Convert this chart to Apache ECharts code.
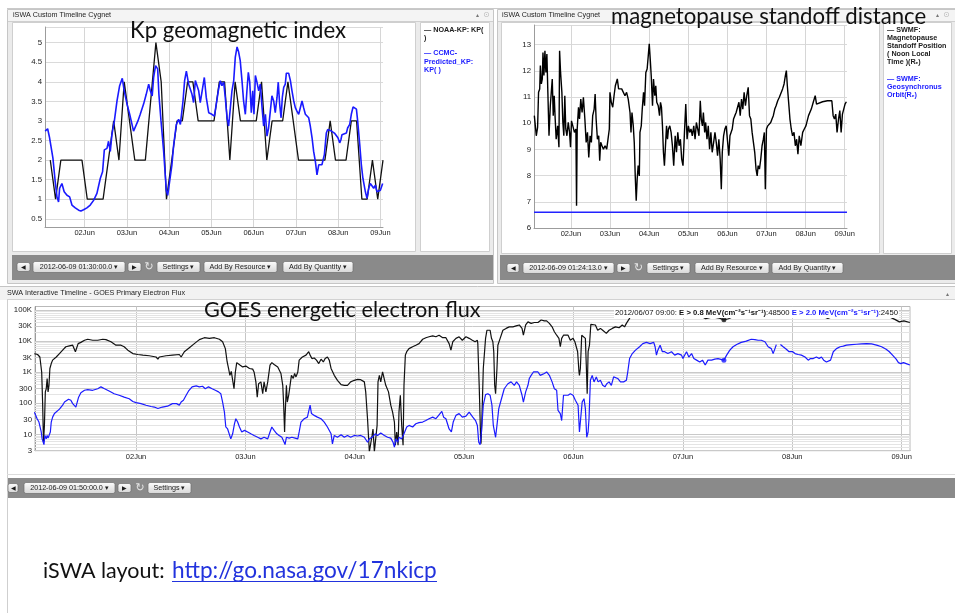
<!DOCTYPE html>
<html><head><meta charset="utf-8">
<script src="https://cdn.jsdelivr.net/npm/echarts@6/dist/echarts.min.js"></script>
<style>html,body{margin:0;padding:0;background:#fff}#c{width:955px;height:613px}</style>
</head><body><div id="c"></div>
<script>
// ---------- DATA (hours after 2012-06-01 00:00, value) ----------
const kpNoaaHours = [4.5,7.5,10.5,13.5,16.5,19.5,22.5,25.5,28.5,31.5,34.5,37.5,40.5,43.5,46.5,49.5,52.5,55.5,58.5,61.5,64.5,67.5,70.5,73.5,76.5,79.5,82.5,85.5,88.5,91.5,94.5,97.5,100.5,103.5,106.5,109.5,112.5,115.5,118.5,121.5,124.5,127.5,130.5,133.5,136.5,139.5,142.5,145.5,148.5,151.5,154.5,157.5,160.5,163.5,166.5,169.5,172.5,175.5,178.5,181.5,184.5,187.5,190.5,193.5];
const kpNoaaValues = [2,1,2,2,2,2,2,1,1,1,1,2,3,2,4,3,2,2,2,3.5,5,4,1,2,3,3,4,4,3,3,3,3,4,4,2,4,3,3,3,3,4,2,3,3,3,4,3,2,2,2,2,2,2,3,2,2,2,3,3,1,1,2,1,2];

const kpPredicted = [
[1.6,2.74],[3.0,2.8],[4.1,2.57],[6.0,2.05],[7.3,1.45],[8.3,1.06],[9.2,0.93],[9.8,1.28],[11.1,1.4],[12.4,1.19],
[14.0,1.1],[15.5,1.06],[16.8,0.85],[18.7,0.78],[20.6,0.72],[21.9,0.70],[23.4,0.73],[25.3,0.78],[27.2,0.85],[29.1,0.97],
[31.0,1.15],[32.9,1.53],[34.2,1.7],[35.2,2.26],[36.7,2.3],[37.6,2.48],[38.6,2.22],[39.5,2.65],[40.9,3.0],[42.4,3.51],
[43.9,3.9],[45.4,4.09],[46.5,3.77],[48.1,3.43],[49.6,3.17],[51.8,2.74],[52.8,2.72],[54.3,3.0],[55.6,3.17],[57.5,3.43],
[59.0,3.68],[60.4,3.94],[61.3,3.77],[62.4,3.64],[63.2,4.11],[64.3,4.41],[65.5,4.33],[66.2,3.68],[67.4,3.0],[68.9,2.22],
[70.4,1.23],[71.2,1.1],[72.3,1.15],[73.6,1.88],[74.6,2.39],[76.1,2.91],[77.4,3.04],[78.4,2.91],[79.9,3.51],[80.8,4.03],
[81.8,4.27],[83.1,3.94],[84.0,3.99],[85.0,3.68],[85.9,3.47],[86.9,4.03],[87.8,4.07],[88.8,3.77],[89.7,3.47],[90.7,3.51],
[92.0,4.11],[93.1,3.6],[94.5,3.21],[95.4,3.25],[96.3,3.17],[97.7,3.12],[98.8,3.43],[100.1,3.81],[101.1,4.03],[102.0,3.9],
[103.0,3.99],[103.9,3.6],[104.9,3.08],[105.8,2.87],[106.8,3.34],[107.7,3.77],[108.7,4.03],[109.6,4.63],[110.6,4.89],[111.5,4.76],
[112.4,4.54],[113.4,4.03],[114.3,3.51],[115.3,3.17],[116.2,3.77],[117.0,4.24],[117.8,3.99],[118.7,3.21],[119.5,3.77],[120.2,3.17],
[121.0,4.16],[121.9,3.99],[122.9,3.77],[123.8,3.94],[124.8,3.34],[125.7,2.87],[126.7,3.17],[127.6,2.61],[128.5,2.82],[129.5,3.25],
[130.4,3.64],[131.4,3.51],[132.3,3.21],[133.3,3.6],[134.0,3.99],[134.8,3.43],[135.6,3.08],[136.3,3.6],[137.1,3.86],[138.0,3.94],
[138.6,4.22],[139.9,4.22],[140.9,4.03],[141.8,3.77],[142.8,3.51],[143.7,3.34],[144.6,3.25],[145.6,3.17],[146.5,3.21],[147.5,3.51],
[148.4,3.34],[149.4,3.17],[150.3,3.12],[151.3,3.08],[152.2,2.87],[153.2,2.57],[154.1,2.22],[155.1,1.96],[156.0,1.62],[157.0,1.88],
[157.9,1.92],[158.8,1.88],[160.2,2.14],[161.3,2.69],[162.1,2.78],[163.2,2.82],[164.2,2.74],[165.1,2.78],[165.9,2.69],[167.0,2.65],
[167.9,2.57],[168.9,2.44],[169.6,2.52],[170.2,2.65],[171.2,2.69],[172.7,2.69],[173.4,2.82],[174.6,2.91],[175.5,3.17],[176.5,3.36],
[177.4,3.41],[178.4,3.3],[179.1,3.0],[180.3,2.39],[181.2,1.88],[182.1,1.53],[183.5,1.19],[184.4,1.02],[185.4,1.28],[186.3,1.4],
[187.3,1.4],[188.2,1.28],[189.2,1.36],[190.1,1.19],[191.0,1.19],[192.0,1.23],[192.9,1.28],[193.3,1.4]];

const mpStandoff = [
[1.6,10.29],[2.0,10.22],[2.8,9.52],[3.6,9.84],[4.2,11.18],[4.9,11.31],[5.3,12.2],[5.9,11.5],[6.5,11.69],[6.9,12.7],[7.5,11.82],[8.1,12.77],[8.7,11.94],[9.3,12.64],[9.9,11.18],[10.6,9.52],[11.4,10.67],[12.0,11.18],[12.6,11.69],[13.2,10.29],[13.8,11.05],[14.4,10.16],[15.0,9.39],[15.9,9.9],[16.7,9.08],[17.1,12.77],[17.7,11.94],[18.5,11.18],[19.1,10.03],[19.7,9.52],[20.3,11.05],[20.9,9.78],[21.6,9.52],[22.4,10.03],[23.2,9.65],[23.8,9.08],[24.4,10.09],[25.2,9.9],[26.2,9.65],[27.1,9.78],[27.5,6.85],[27.9,9.78],[28.7,10.61],[29.3,10.16],[30.1,10.92],[30.9,10.41],[31.7,10.99],[32.6,10.16],[33.4,9.27],[34.2,9.65],[35.0,8.69],[35.8,9.52],[36.6,9.27],[37.4,10.29],[38.3,10.54],[38.9,11.11],[39.5,10.16],[40.3,9.39],[41.1,9.52],[41.7,8.57],[42.3,9.27],[43.1,9.14],[44.0,9.01],[45.0,9.14],[46.0,9.01],[46.8,9.39],[47.6,9.78],[48.0,11.18],[48.8,10.8],[49.7,10.61],[50.5,11.05],[51.3,11.43],[52.5,11.69],[53.3,11.31],[54.1,11.37],[55.2,11.31],[56.2,11.24],[57.2,11.05],[58.2,11.18],[59.2,10.92],[60.3,10.41],[60.9,9.65],[61.5,10.41],[62.3,9.9],[62.9,9.27],[63.5,7.99],[64.1,7.04],[64.7,7.87],[65.3,8.38],[66.0,7.99],[66.4,9.65],[67.2,9.9],[67.8,10.54],[68.6,11.18],[69.2,10.67],[70.0,11.94],[70.8,12.07],[71.5,12.58],[72.1,13.03],[72.7,12.45],[73.3,11.82],[74.1,10.67],[74.7,11.69],[75.5,11.05],[76.1,11.43],[76.7,10.8],[77.6,10.67],[78.4,10.29],[79.0,10.8],[79.6,10.61],[80.2,9.9],[80.8,8.89],[81.4,8.38],[82.0,8.31],[82.7,9.9],[83.3,9.39],[83.9,9.78],[84.7,9.9],[85.5,9.65],[86.3,9.14],[87.1,8.38],[88.0,9.52],[88.8,8.89],[89.6,9.65],[90.4,9.14],[91.2,9.39],[92.0,8.63],[92.8,8.38],[93.7,9.65],[94.5,10.73],[95.3,9.39],[96.1,9.9],[96.9,9.65],[97.7,9.78],[98.5,9.52],[99.4,9.9],[100.2,9.39],[101.0,10.03],[101.8,9.78],[102.6,9.52],[103.4,10.86],[104.0,10.16],[104.7,9.9],[105.3,10.41],[106.1,9.65],[106.7,10.03],[107.5,9.39],[108.3,9.9],[109.1,9.01],[109.9,9.65],[110.7,8.89],[111.6,9.27],[112.4,9.65],[113.2,9.27],[114.0,8.76],[114.8,9.39],[115.6,8.63],[116.3,7.48],[116.9,8.89],[117.7,9.52],[118.5,9.78],[119.3,9.9],[120.1,9.97],[120.9,8.76],[121.6,9.52],[122.4,9.52],[123.0,9.78],[123.8,10.16],[124.6,10.29],[125.4,10.41],[126.2,10.48],[127.1,10.8],[127.9,10.29],[128.7,10.92],[129.5,10.54],[130.3,11.18],[131.1,10.67],[131.9,11.05],[132.8,11.37],[133.6,10.29],[134.4,10.16],[135.2,9.65],[136.0,9.27],[136.8,8.89],[137.6,8.25],[138.3,7.99],[138.9,8.38],[139.7,8.25],[140.5,8.63],[141.3,9.14],[142.1,9.39],[142.7,9.65],[143.3,7.48],[144.0,9.78],[144.8,9.9],[145.8,9.9],[146.6,10.03],[147.4,10.16],[148.2,10.29],[149.1,10.54],[149.9,10.67],[150.9,10.86],[151.9,10.99],[152.9,11.05],[153.9,11.31],[154.8,11.5],[155.6,11.82],[156.2,12.01],[156.8,11.43],[157.6,10.8],[158.4,10.16],[159.2,9.78],[160.0,9.52],[160.9,9.65],[161.7,9.14],[162.5,9.39],[163.3,8.82],[164.1,9.52],[165.1,9.14],[166.2,9.65],[167.2,9.78],[168.2,9.9],[169.8,10.29],[171.5,10.54],[172.7,10.8],[173.9,11.05],[174.7,10.73],[175.5,10.8],[178.4,10.82],[181.4,10.86],[184.1,10.86],[184.9,10.29],[185.7,10.16],[186.5,10.35],[187.3,9.65],[188.2,10.16],[189.0,10.48],[189.8,9.65],[190.6,10.35],[191.4,10.54],[192.2,10.73],[193.0,10.82]];

const geoOrbitHours = [1.4, 193.4];
const geoOrbitValues = [6.6, 6.6];

const goesE08 = [
[1.7,3980],[2.4,3720],[2.9,3090],[3.3,1020],[3.5,110],[3.7,5.6],[3.9,19.5],[4.1,234],[4.3,295],[4.5,631],[4.7,234],[4.9,380],[5.1,1320],[5.4,1900],[5.7,2450],[6.5,3090],[7.2,3980],[7.9,5130],[8.6,6610],[9.4,7080],[10.1,7410],[10.7,4570],[11.0,3980],[11.3,8320],[11.9,9120],[12.7,10700],[13.4,11500],[14.5,10700],[15.6,10700],[16.7,11500],[17.4,11200],[18.5,9550],[19.6,7410],[20.7,7410],[21.4,6610],[22.2,5130],[23.3,3980],[24.4,3720],[25.5,3550],[26.9,3390],[28.4,3090],[28.8,2630],[29.1,3090],[30.6,3390],[32.0,3550],[33.5,3720],[33.9,3090],[34.6,4570],[35.7,6170],[36.8,8320],[37.9,11200],[39.0,12900],[40.1,12300],[41.2,12900],[42.3,11500],[43.0,9550],[43.6,5750],[44.0,2140],[44.3,1320],[44.6,794],[44.9,1070],[45.2,977],[45.5,295],[45.8,1020],[46.1,2040],[46.4,2240],[46.8,1700],[47.4,1480],[48.1,1580],[48.9,1320],[49.6,1260],[49.9,1020],[50.3,490],[50.6,158],[50.9,427],[51.4,490],[51.8,204],[52.1,490],[52.5,234],[52.9,490],[53.4,1700],[53.8,2040],[54.3,1780],[55.1,1480],[55.8,912],[56.2,380],[56.4,87],[56.6,12],[56.7,36],[57.0,380],[57.2,110],[57.5,182],[57.8,380],[58.1,794],[58.5,631],[58.8,912],[59.1,708],[59.5,1020],[59.8,2450],[60.2,2750],[60.5,3090],[61.3,3550],[61.9,4570],[62.2,3550],[62.6,2750],[63.1,2880],[63.6,2450],[64.1,1900],[64.6,2630],[65.1,2140],[65.5,2750],[66.0,3090],[66.4,2450],[66.8,1320],[67.5,794],[68.2,550],[69.0,398],[69.7,380],[70.4,380],[71.1,490],[71.9,550],[72.6,589],[73.3,575],[74.1,490],[74.4,234],[74.8,32],[75.2,2.8],[75.5,2.8],[75.8,9.3],[76.0,15],[76.3,2.8],[76.6,2.8],[76.9,19.5],[77.1,490],[77.4,794],[77.7,490],[78.1,1020],[78.5,912],[78.8,380],[79.4,234],[79.9,87],[80.3,52],[80.7,25],[80.9,4.5],[81.2,12],[81.5,4.5],[81.7,52],[82.0,182],[82.3,19.5],[82.6,4.5],[82.8,380],[83.1,3550],[83.4,4570],[83.9,5750],[84.7,6610],[85.4,7410],[86.1,8320],[86.9,11500],[87.6,12900],[88.3,13800],[89.1,14800],[89.8,13800],[90.5,15500],[91.3,12900],[92.0,12900],[92.7,8320],[93.1,5130],[93.5,9550],[94.2,12300],[94.9,13800],[95.6,10700],[96.4,13800],[97.1,12300],[97.8,10700],[98.4,9550],[98.9,10700],[99.0,8320],[99.3,380],[99.6,9.3],[99.7,5],[99.9,32],[100.2,1320],[100.7,12300],[101.0,22400],[101.4,25700],[101.7,22400],[102.0,12300],[102.3,9550],[102.5,4570],[102.7,380],[102.9,204],[103.2,1320],[103.4,7410],[103.9,12300],[104.5,22400],[105.2,25700],[105.9,28800],[106.7,28800],[107.4,30900],[108.1,33100],[108.7,25700],[109.0,15500],[109.5,33100],[110.0,41700],[110.7,37200],[111.4,39800],[112.2,39800],[112.9,47900],[113.6,44700],[114.1,44700],[114.7,37200],[115.3,28800],[115.8,20000],[116.3,15500],[116.8,12300],[117.1,6610],[117.4,12300],[117.8,15500],[118.2,13800],[118.8,15500],[119.3,10700],[119.9,12300],[120.3,9550],[120.6,8320],[120.9,4570],[121.2,1020],[121.3,794],[121.5,1320],[121.8,15500],[122.2,15500],[122.6,12300],[122.8,1700],[123.0,204],[123.2,4570],[123.5,7410],[123.8,34700],[124.2,37200],[124.8,33100],[125.3,22400],[125.9,25700],[126.4,22400],[127.2,17800],[127.8,22400],[128.5,25700],[129.2,28800],[130.0,26900],[130.7,33100],[131.2,28800],[131.6,37200],[131.9,33100],[132.3,53700],[132.6,77600],[133.5,83200],[136,89100],[140,79400],[144,75900],[148,63100],[149,52500],[150.5,60300],[152,55000],[153,48500],[154,52500],[156,70800],[160,89100],[165,95500],[170,85100],[174,70800],[175.8,53700],[177,63100],[181,79400],[185,83200],[189,63100],[190.5,50100],[191.5,41700],[192.5,44700],[193.8,39800]];

const goesE20 = [
[1.7,52],[2.1,47],[2.3,32],[2.5,34],[2.7,25],[2.9,22],[3.2,12],[3.4,7.2],[3.6,8.1],[3.8,4.7],[4.0,9.3],[4.3,7.2],[4.5,9.3],[4.7,7.6],[5.0,8.1],[5.2,12],[5.4,25],[5.7,36],[6.1,47],[6.5,52],[7.2,65],[7.6,71],[7.9,87],[8.3,110],[8.6,126],[9.2,135],[9.7,126],[10.1,98],[10.5,110],[10.8,76],[11.1,110],[11.4,158],[11.9,219],[12.7,263],[13.4,275],[14.5,263],[15.6,295],[16.3,339],[17.1,295],[18.2,245],[19.2,204],[20.3,182],[21.4,158],[22.5,141],[23.3,115],[24.0,105],[25.1,98],[26.2,87],[27.3,79],[28.0,76],[28.8,68],[29.8,76],[30.9,81],[32.0,98],[32.9,98],[33.5,87],[33.9,110],[34.4,126],[35.0,182],[35.5,245],[36.3,339],[37.2,363],[37.9,339],[38.6,355],[39.2,295],[39.9,339],[40.7,295],[41.4,263],[42.1,234],[42.6,204],[43.0,110],[43.4,52],[43.7,17.4],[44.1,15],[44.5,13.5],[44.8,7.2],[45.2,10.5],[45.6,22],[45.9,32],[46.3,25],[46.7,17.4],[47.2,12],[47.8,13.5],[48.5,12],[49.2,10.5],[49.9,9.3],[50.7,8.1],[51.4,7.2],[52.1,8.1],[52.9,7.2],[53.4,12],[53.8,17.4],[54.3,13.5],[54.9,10.5],[55.4,9.3],[56.0,8.1],[56.5,5.6],[56.7,4.7],[57.0,8.1],[57.6,7.6],[58.2,8.1],[58.9,7.6],[59.5,7.2],[59.8,12],[60.2,25],[60.9,32],[61.6,36],[62.2,87],[62.5,47],[63.1,41],[63.8,36],[64.6,32],[65.3,25],[66.0,17.4],[66.8,10.5],[67.1,5],[67.5,9.3],[68.2,8.1],[69.0,9.8],[69.7,8.1],[70.4,9.3],[71.1,8.1],[71.9,9.3],[72.6,8.9],[73.3,9.3],[74.1,8.1],[74.8,5.6],[75.2,7.2],[75.8,8.1],[76.5,10.5],[77.0,9.3],[77.7,11.2],[78.5,9.3],[79.2,8.1],[79.9,7.6],[80.4,5.6],[80.7,3.9],[81.0,7.2],[81.4,5.6],[81.7,8.1],[82.3,7.2],[82.8,10.5],[83.4,17.4],[83.9,19.5],[84.7,17.4],[85.4,22],[86.1,24],[86.9,25],[87.6,28],[88.3,32],[89.1,36],[89.8,32],[90.4,41],[91.1,55],[91.5,36],[92.0,32],[92.7,15],[93.2,12],[93.6,25],[94.2,41],[94.9,47],[95.6,36],[96.4,39],[97.1,52],[97.9,36],[98.5,28],[98.9,19.5],[99.2,5.6],[99.5,4.7],[99.8,12],[100.2,87],[100.7,190],[101.2,204],[101.7,182],[102.1,87],[102.4,19.5],[102.9,8.1],[103.2,19.5],[103.6,68],[104.1,126],[104.8,295],[105.6,427],[106.3,490],[107.0,380],[107.5,490],[108.1,380],[108.7,182],[109.0,110],[109.5,234],[110.0,380],[110.3,631],[110.7,794],[111.2,1020],[111.6,912],[112.2,1020],[112.7,794],[113.1,912],[113.6,912],[114.1,1020],[114.7,794],[115.3,490],[115.8,295],[116.3,263],[116.6,59],[117.1,47],[117.4,28],[117.8,182],[118.2,204],[118.8,182],[119.3,204],[119.9,182],[120.4,126],[121.0,87],[121.3,12],[121.6,10.5],[121.9,110],[122.3,141],[122.6,68],[122.9,8.1],[123.2,12],[123.4,32],[123.7,550],[124.1,794],[124.5,490],[125.0,708],[125.4,490],[125.9,550],[126.4,380],[126.9,339],[127.3,427],[127.8,490],[128.3,380],[128.8,708],[129.2,794],[129.7,631],[130.3,490],[131.0,490],[131.6,550],[131.9,1020],[132.3,2750],[132.9,3980],[133.6,5130],[134.5,6610],[135.2,8320],[136.0,9120],[136.8,8320],[137.6,9120],[137.9,6610],[138.2,3550],[138.5,5130],[139.0,7410],[139.5,4570],[140.0,4570],[140.7,3980],[141.5,4570],[142.2,3550],[142.9,3980],[143.7,3550],[144.0,2750],[144.8,4570],[145.3,3090],[145.9,3980],[146.4,2750],[147.0,2450],[147.7,2140],[148.3,2450],[148.9,1700],[149.5,2450],[150.3,2450],[151.0,2630],[151.7,2750],[153.0,2450],[153.6,3550],[154.3,5130],[155.0,6610],[155.8,7760],[156.8,9120],[157.9,10000],[159.0,11500],[159.8,11200],[160.5,10700],[161.2,10700],[162.0,9550],[162.7,6610],[163.4,5750],[163.8,3980],[164.2,5750],[164.5,7760],[165.0,null],[165.4,7760],[166.0,6610],[166.7,5500],[167.3,4570],[167.6,3980],[168.1,4570],[168.6,3980],[169.3,3720],[170.0,3550],[170.8,3090],[171.5,2450],[172.0,2750],[172.6,2750],[173.3,3090],[173.9,2750],[174.4,3090],[174.9,2450],[175.5,2140],[175.9,1900],[176.4,2450],[177.0,4570],[177.7,5750],[178.5,6610],[179.2,6920],[179.9,7410],[181.0,7760],[182.1,7940],[183.2,8130],[184.3,8320],[185.4,8130],[186.5,7410],[187.6,6610],[188.6,5500],[189.3,4570],[190.0,3550],[190.8,2630],[191.3,2040],[191.8,1900],[192.4,2040],[193.0,1900],[193.5,1780],[193.8,1700]];

const hoverHour = 153;                 // 2012/06/07 09:00
const hoverValues = [48500, 2450];     // E>0.8 MeV, E>2.0 MeV
const dayTickHours = [24, 48, 72, 96, 120, 144, 168, 192];   // 02Jun ... 09Jun midnights
const fluxMajorTicks = [3, 10, 30, 100, 300, 1000, 3000, 10000, 30000, 100000];
const fluxMajorLabels = ['3', '10', '30', '100', '300', '1K', '3K', '10K', '30K', '100K'];
const fluxMinorMultipliers = [2, 4, 5, 6, 7, 8, 9];
const fluxDecades = [1, 10, 100, 1000, 10000, 100000];

// ---------- helpers ----------
const T0 = new Date(2012, 5, 1).getTime();
const HOUR = 3600000;
const toTime = h => T0 + h * HOUR;
const pairs = arr => arr.map(p => [toTime(p[0]), p[1]]);
const zip = (hs, vs) => hs.map((h, i) => [toTime(h), vs[i]]);
const FONT = '"Liberation Sans", Arial, sans-serif';

function dayLabel(v) {
  const d = new Date(v);
  const dd = d.getDate();
  return (dd < 10 ? '0' : '') + dd + 'Jun';
}
function timeAxis(gi, h0, h1) {
  return {
    type: 'time', gridIndex: gi, min: toTime(h0), max: toTime(h1),
    axisLine: { show: true, lineStyle: { color: '#9c9c9c', width: 1 } },
    axisTick: { show: false }, axisLabel: { show: false }, splitLine: { show: false }
  };
}
function dayLineSeries(gi, yi, color) {
  return {
    name: 'days' + gi, type: 'line', xAxisIndex: gi, yAxisIndex: yi, data: [], z: 1, silent: true,
    markLine: { silent: true, z: 1, symbol: ['none', 'none'], animation: false,
      lineStyle: { color: color, type: 'solid', width: 1 },
      label: { show: true, position: 'start', formatter: '{b}', fontSize: 7.5, color: '#222', fontFamily: FONT, distance: 2 },
      data: dayTickHours.map(h => ({ xAxis: toTime(h), name: dayLabel(toTime(h)) })) }
  };
}

// ---------- graphics (chrome) ----------
const G = [];
function rect(x, y, w, h, fill, stroke, z, r) {
  G.push({ type: 'rect', silent: true, z: z == null ? -10 : z,
    shape: { x, y, width: w, height: h, r: r || 0 },
    style: { fill: fill || 'none', stroke: stroke || null, lineWidth: 1 } });
}
function hline(x1, x2, y, color, z) {
  G.push({ type: 'line', silent: true, z: z == null ? -9 : z, shape: { x1, y1: y, x2, y2: y }, style: { stroke: color, lineWidth: 1 } });
}
function vline(x, y1, y2, color, z) {
  G.push({ type: 'line', silent: true, z: z == null ? -9 : z, shape: { x1: x, y1, x2: x, y2 }, style: { stroke: color, lineWidth: 1 } });
}
function txt(x, y, text, o) {
  o = o || {};
  G.push({ type: 'text', silent: true, z: o.z == null ? 6 : o.z, x, y,
    style: Object.assign({ text, fill: '#222', fontSize: 7.2, fontFamily: FONT,
      align: 'left', verticalAlign: 'middle', textAlign: 'left', textVerticalAlign: 'middle' }, o.style || {}) });
}
function button(x, y, w, h, label, fs) {
  G.push({ type: 'rect', silent: true, z: 5, shape: { x, y, width: w, height: h, r: 2 },
    style: { fill: new echarts.graphic.LinearGradient(0, 0, 0, 1, [{ offset: 0, color: '#fdfdfd' }, { offset: 1, color: '#d6d6d6' }]), stroke: '#6f6f6f', lineWidth: 0.7 } });
  txt(x + w / 2, y + h / 2 + 0.5, label, { style: { align: 'center', textAlign: 'center', fontSize: fs || 7.2, fill: '#1a1a1a' } });
}
function toolbar(x, y, w, h, by, items) {
  rect(x, y, w, h, '#8a8a8a', null, -8);
  items.forEach(it => {
    if (it.icon) txt(it.x, by + 5.5, '↻', { style: { fontSize: 11, fill: '#e4e4e4', align: 'center', textAlign: 'center', fontFamily: '"DejaVu Sans"' } });
    else if (it.arrow) button(it.x, by + 1, it.w, 9, it.arrow, 6);
    else button(it.x, by, it.w, 11, it.label);
  });
}

hline(7, 955, 8.5, '#c9c9c9');
// --- top-left panel ---
rect(7.5, 9.5, 486, 274, '#ebebeb', '#c6c6c6', -12);
rect(8, 10, 485, 11, '#f4f4f4', null, -11);
hline(8, 493, 21.5, '#cfcfcf');
txt(13, 15.5, 'iSWA Custom Timeline Cygnet');
txt(476, 15, '▴', { style: { fontSize: 6, fill: '#777', fontFamily: '"DejaVu Sans"' } });
txt(483, 15, '⊙', { style: { fontSize: 8, fill: '#bbb', fontFamily: '"DejaVu Sans"' } });
rect(12.5, 22.5, 403, 229, '#ffffff', '#cfcfcf', -10);
rect(420.5, 22.5, 69, 229, '#ffffff', '#cfcfcf', -10);
toolbar(12, 255, 481, 25, 261.5, [
  { arrow: '◀', x: 17, w: 13 }, { label: '2012-06-09 01:30:00.0 ▾', x: 33, w: 92 }, { arrow: '▶', x: 128, w: 13 },
  { icon: 1, x: 149 }, { label: 'Settings ▾', x: 157, w: 43 }, { label: 'Add By Resource ▾', x: 204, w: 73 }, { label: 'Add By Quantity ▾', x: 283, w: 70 }]);
const LB = { fontWeight: 'bold', fontSize: 7.2 };
const LBB = Object.assign({ fill: '#1a1aff' }, LB);
txt(424, 30, '— NOAA-KP: KP(', { style: LB });
txt(424, 38, ')', { style: LB });
txt(424, 53.5, '— CCMC-', { style: LBB });
txt(424, 62, 'Predicted_KP:', { style: LBB });
txt(424, 70.5, 'KP( )', { style: LBB });

// --- top-right panel ---
rect(497.5, 9.5, 458, 274, '#ebebeb', '#c6c6c6', -12);
rect(498, 10, 457, 11, '#f4f4f4', null, -11);
hline(498, 955, 21.5, '#cfcfcf');
txt(502, 15.5, 'iSWA Custom Timeline Cygnet');
txt(936, 15, '▴', { style: { fontSize: 6, fill: '#777', fontFamily: '"DejaVu Sans"' } });
txt(943, 15, '⊙', { style: { fontSize: 8, fill: '#bbb', fontFamily: '"DejaVu Sans"' } });
rect(501.5, 22.5, 378, 231, '#ffffff', '#cfcfcf', -10);
rect(883.5, 22.5, 68, 231, '#ffffff', '#cfcfcf', -10);
toolbar(500, 255, 455, 25, 262.5, [
  { arrow: '◀', x: 507, w: 12 }, { label: '2012-06-09 01:24:13.0 ▾', x: 523, w: 91 }, { arrow: '▶', x: 617, w: 13 },
  { icon: 1, x: 638.5 }, { label: 'Settings ▾', x: 647, w: 43 }, { label: 'Add By Resource ▾', x: 695, w: 74 }, { label: 'Add By Quantity ▾', x: 772, w: 71 }]);
txt(887, 30, '— SWMF:', { style: LB });
txt(887, 38, 'Magnetopause', { style: LB });
txt(887, 46, 'Standoff Position', { style: LB });
txt(887, 54, '( Noon Local', { style: LB });
txt(887, 62, 'Time )(Rₑ)', { style: LB });
txt(887, 79, '— SWMF:', { style: LBB });
txt(887, 87.5, 'Geosynchronus', { style: LBB });
txt(887, 95.5, 'Orbit(Rₑ)', { style: LBB });

// --- bottom panel ---
rect(0, 286, 955, 14, '#f2f2f2', null, -11);
hline(0, 955, 286.5, '#c4c4c4');
hline(7, 955, 299.5, '#d2d2d2');
txt(7, 293.5, 'SWA Interactive Timeline - GOES Primary Electron Flux');
txt(946, 294, '▴', { style: { fontSize: 6, fill: '#777', fontFamily: '"DejaVu Sans"' } });
rect(7, 300, 948, 174, '#ffffff', null, -11);
vline(7.5, 300, 613, '#cfcfcf');
hline(7, 955, 474.5, '#dcdcdc');
toolbar(8, 478, 947, 20, 482.5, [
  { arrow: '◀', x: 8, w: 10 }, { label: '2012-06-09 01:50:00.0 ▾', x: 24, w: 91 }, { arrow: '▶', x: 118, w: 13 },
  { icon: 1, x: 140 }, { label: 'Settings ▾', x: 148, w: 43 }]);

// hover readout
const fmtHover = (() => {
  const d = new Date(toTime(hoverHour));
  const p = n => (n < 10 ? '0' : '') + n;
  return d.getFullYear() + '/' + p(d.getMonth() + 1) + '/' + p(d.getDate()) + ' ' + p(d.getHours()) + ':' + p(d.getMinutes()) + ': ';
})();
G.push({ type: 'text', silent: true, z: 50, x: 614, y: 312.5,
  style: { text: fmtHover + '{b|E > 0.8 MeV(cm⁻²s⁻¹sr⁻¹)}:' + hoverValues[0] + ' {c|E > 2.0 MeV(cm⁻²s⁻¹sr⁻¹)}:' + hoverValues[1],
    rich: { b: { fontWeight: 'bold', fill: '#111', fontSize: 7.7, fontFamily: FONT }, c: { fontWeight: 'bold', fill: '#1a1aff', fontSize: 7.7, fontFamily: FONT } },
    fill: '#111', fontSize: 7.7, fontFamily: FONT, backgroundColor: '#fff', padding: [2, 1, 1, 1],
    align: 'left', verticalAlign: 'middle', textAlign: 'left', textVerticalAlign: 'middle' } });

// slide overlay titles
const TF = 'Lato, "Open Sans", sans-serif';
txt(130, 31, 'Kp geomagnetic index', { z: 60, style: { fontSize: 22.2, fontFamily: TF, fill: '#111' } });
txt(611, 16.8, 'magnetopause standoff distance', { z: 60, style: { fontSize: 22.2, fontFamily: TF, fill: '#111' } });
txt(204, 310.5, 'GOES energetic electron flux', { z: 60, style: { fontSize: 21.7, fontFamily: TF, fill: '#111' } });
txt(43, 571, 'iSWA layout:', { z: 60, style: { fontSize: 21.5, fontFamily: TF, fill: '#111' } });
txt(172, 571, 'http://go.nasa.gov/17nkicp', { z: 60, style: { fontSize: 22.6, fontFamily: TF, fill: '#2233dd' } });
hline(172, 437, 581.5, '#2233dd', 60);

// ---------- mark lines for the log axis ----------
const majorLines = fluxMajorTicks.map((v, i) => ({ yAxis: v, name: fluxMajorLabels[i], lineStyle: { color: '#c9c9c9', type: 'solid' } }));
const minorLines = [];
fluxDecades.forEach(d => fluxMinorMultipliers.forEach(m => {
  const v = d * m;
  if (v > 3 && v < 130000) minorLines.push({ yAxis: v, name: '', label: { show: false }, lineStyle: { color: '#e4e4e4', type: 'solid' } });
}));

const yLabel = { fontSize: 7.8, color: '#222', fontFamily: FONT, margin: 3 };

const option = {
  animation: false,
  backgroundColor: '#ffffff',
  textStyle: { fontFamily: FONT },
  grid: [
    { left: 45, top: 27, width: 338, height: 200 },
    { left: 534, top: 25, width: 313, height: 203 },
    { left: 35, top: 306.5, width: 875, height: 144.2, show: true, borderColor: '#b9b9b9', borderWidth: 1, backgroundColor: 'transparent' }
  ],
  xAxis: [ timeAxis(0, 1.5, 193.5), timeAxis(1, 1.4, 193.4), timeAxis(2, 1.8333, 193.8333) ],
  yAxis: [
    { type: 'value', gridIndex: 0, min: 0.29, max: 5.4, splitNumber: 10, minInterval: 0.5, maxInterval: 0.5,
      axisLine: { show: true, lineStyle: { color: '#9c9c9c' } }, axisTick: { show: false },
      axisLabel: Object.assign({}, yLabel, { formatter: v => (Math.abs(v * 2 - Math.round(v * 2)) < 1e-6 ? String(+v.toFixed(1)) : '') }),
      splitLine: { lineStyle: { color: '#dadada' } } },
    { type: 'value', gridIndex: 1, min: 6, max: 13.75, splitNumber: 8, minInterval: 1, maxInterval: 1,
      axisLine: { show: true, lineStyle: { color: '#9c9c9c' } }, axisTick: { show: false },
      axisLabel: Object.assign({}, yLabel, { formatter: v => (Math.abs(v - Math.round(v)) < 1e-6 ? String(Math.round(v)) : '') }),
      splitLine: { lineStyle: { color: '#dadada' } } },
    { type: 'log', logBase: 10, gridIndex: 2, min: 3, max: 130000,
      axisLine: { show: true, lineStyle: { color: '#9c9c9c' } }, axisTick: { show: false },
      axisLabel: { show: false }, splitLine: { show: false } }
  ],
  series: [
    dayLineSeries(0, 0, '#d6d6d6'),
    dayLineSeries(1, 1, '#d6d6d6'),
    dayLineSeries(2, 2, '#c6c6c6'),
    { name: 'NOAA-KP', type: 'line', xAxisIndex: 0, yAxisIndex: 0, data: zip(kpNoaaHours, kpNoaaValues),
      showSymbol: false, symbol: 'none', lineStyle: { color: '#111', width: 1.3 }, z: 10 },
    { name: 'CCMC-Predicted_KP', type: 'line', xAxisIndex: 0, yAxisIndex: 0, data: pairs(kpPredicted),
      showSymbol: false, symbol: 'none', lineStyle: { color: '#1a1aff', width: 1.6 }, z: 11 },
    { name: 'Magnetopause', type: 'line', xAxisIndex: 1, yAxisIndex: 1, data: pairs(mpStandoff),
      showSymbol: false, symbol: 'none', lineStyle: { color: '#000', width: 1.4 }, z: 10 },
    { name: 'Geosynchronus', type: 'line', xAxisIndex: 1, yAxisIndex: 1, data: zip(geoOrbitHours, geoOrbitValues),
      showSymbol: false, symbol: 'none', lineStyle: { color: '#2222ff', width: 1.5 }, z: 10 },
    { name: 'fluxgrid', type: 'line', xAxisIndex: 2, yAxisIndex: 2, data: [], z: 1, silent: true,
      markLine: { silent: true, z: 1, symbol: ['none', 'none'], animation: false,
        label: { show: true, position: 'start', formatter: '{b}', fontSize: 7.8, color: '#222', fontFamily: FONT, distance: 3 },
        data: minorLines.concat(majorLines) } },
    { name: 'E>0.8', type: 'line', xAxisIndex: 2, yAxisIndex: 2, data: pairs(goesE08),
      showSymbol: false, symbol: 'none', lineStyle: { color: '#111', width: 1.2 }, z: 10 },
    { name: 'E>2.0', type: 'line', xAxisIndex: 2, yAxisIndex: 2, data: pairs(goesE20),
      showSymbol: false, symbol: 'none', connectNulls: false, lineStyle: { color: '#1a1aff', width: 1.2 }, z: 11 },
    { name: 'hover', type: 'scatter', xAxisIndex: 2, yAxisIndex: 2, symbolSize: 5, z: 12,
      data: [{ value: [toTime(hoverHour), hoverValues[0]], itemStyle: { color: '#111' } },
             { value: [toTime(hoverHour), hoverValues[1]], itemStyle: { color: '#1a1aff' } }] }
  ],
  graphic: { elements: G }
};

const chart = echarts.init(document.getElementById('c'), null, { renderer: 'canvas' });
chart.setOption(option);
</script></body></html>
